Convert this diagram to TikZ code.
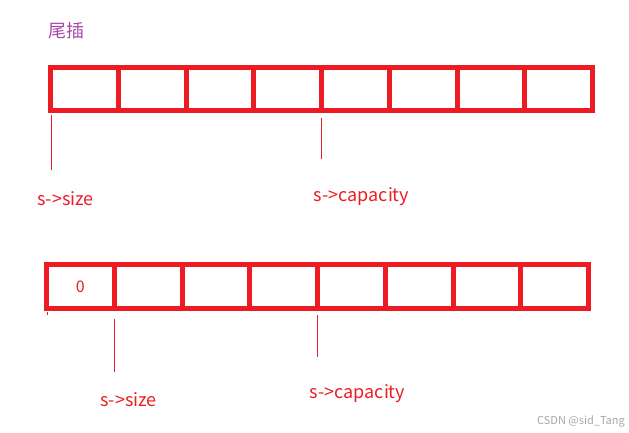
\documentclass[tikz,border=0pt]{standalone}
\usepackage{fontspec}
\setmainfont{Noto Sans CJK SC}
\usetikzlibrary{positioning}
\definecolor{paintred}{RGB}{237,28,36}
\definecolor{paintpurple}{RGB}{163,73,164}
\begin{document}
\begin{tikzpicture}[
  x=1pt,y=-1pt,
  cell/.style={draw=paintred,line width=5pt,minimum width=67.75pt,
    minimum height=43pt,inner sep=0pt},
  ptr/.style={draw=paintred,line width=1pt},
  lbl/.style={text=paintred,inner sep=0pt,font=\fontsize{18}{18}\selectfont}
]
  \useasboundingbox (0,0) rectangle (629,433);
  \node[text=paintpurple,inner sep=0pt,font=\fontsize{18}{18}\selectfont] (title) at (66,31) {尾插};

  % two arrays of eight cells
  \foreach \i in {1,...,8} {
    \node[cell] (t\i) at ({50.5+(\i-0.5)*67.75},89) {};
    \node[cell,minimum height=44pt] (b\i) at ({46.5+(\i-0.5)*67.75},286.5) {};
  }
  \node[lbl,font=\fontsize{16}{16}\selectfont] (zero) at (b1) {0};

  % pointer marks
  \coordinate (tsizeA) at (51,115);   \coordinate (tsizeB) at (51,170);
  \coordinate (tcapA) at (321,118);   \coordinate (tcapB) at (321,159);
  \coordinate (btickA) at (47,312);   \coordinate (btickB) at (47,315);
  \coordinate (bsizeA) at (114.5,319); \coordinate (bsizeB) at (114.5,372);
  \coordinate (bcapA) at (317,315);   \coordinate (bcapB) at (317,357);
  \draw[ptr] (tsizeA) -- (tsizeB);
  \draw[ptr] (tcapA) -- (tcapB);
  \draw[ptr] (btickA) -- (btickB);
  \draw[ptr] (bsizeA) -- (bsizeB);
  \draw[ptr] (bcapA) -- (bcapB);

  \node[lbl] (tsize) at (65.5,199) {s->size};
  \node[lbl] (tcap) at (361.5,197) {s->capacity};
  \node[lbl] (bsize) at (128.5,400) {s->size};
  \node[lbl] (bcap) at (357.5,394) {s->capacity};

  \node[text=gray!70,inner sep=0pt,font=\fontsize{11}{11}\selectfont] (mark) at (581,421) {CSDN @sid\_Tang};
\end{tikzpicture}
\end{document}
